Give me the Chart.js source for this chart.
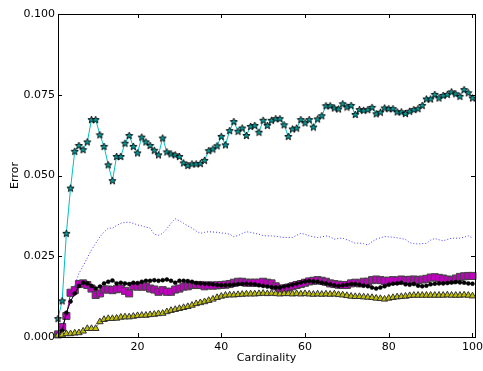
<!DOCTYPE html>
<html><head><meta charset="utf-8">
<script src="https://cdn.jsdelivr.net/npm/chart.js@4/dist/chart.umd.min.js"></script>
<style>html,body{margin:0;padding:0;background:#fff;}#wrap{width:483px;height:371px;}</style>
</head><body><div id="wrap"><canvas id="c" width="483" height="371"></canvas></div>
<script>
const cardinality = Array.from({length: 100}, (_, i) => i + 1);
const xTicks = [20, 40, 60, 80, 100];
const yTicks = [0, 0.025, 0.05, 0.075, 0.1];

const starSeries = [0.0057,0.0112,0.0321,0.0461,0.0575,0.0593,0.058,0.0604,0.0673,0.0673,
0.0626,0.059,0.0533,0.0484,0.0559,0.0559,0.060,0.0624,0.059,0.057,
0.0619,0.0604,0.0593,0.0578,0.0564,0.0616,0.0573,0.0567,0.0564,0.0559,
0.0539,0.0531,0.0536,0.0536,0.0537,0.0547,0.0577,0.0582,0.0592,0.0621,
0.0595,0.0639,0.0667,0.0637,0.0647,0.0624,0.0652,0.0655,0.0634,0.0671,
0.0655,0.0671,0.0676,0.0676,0.0657,0.0621,0.0644,0.0647,0.0673,0.0663,
0.0673,0.065,0.0675,0.0685,0.0716,0.0716,0.0709,0.0706,0.0722,0.0712,
0.0717,0.0689,0.0704,0.0702,0.0704,0.0711,0.0691,0.0696,0.0709,0.0707,
0.0707,0.0697,0.0697,0.0692,0.0699,0.0704,0.0707,0.0717,0.0737,0.0737,
0.0751,0.074,0.0748,0.0751,0.0759,0.0753,0.0745,0.0766,0.0756,0.074];

const dottedSeries = [0.001,0.003,0.007,0.012,0.016,0.0197,0.022,0.0245,0.027,0.029,
0.031,0.0325,0.0337,0.0337,0.0345,0.0352,0.0355,0.0355,0.0352,0.0347,
0.0344,0.034,0.0337,0.0318,0.0315,0.0321,0.0335,0.0352,0.0366,0.036,
0.0352,0.0344,0.0337,0.0328,0.0321,0.0324,0.0326,0.0325,0.0324,0.0322,
0.0321,0.0318,0.0311,0.0314,0.032,0.0326,0.0324,0.0321,0.0318,0.0314,
0.0313,0.0313,0.0312,0.031,0.0308,0.0308,0.0308,0.0315,0.0321,0.0318,
0.0313,0.031,0.0308,0.031,0.0313,0.031,0.0303,0.0305,0.0306,0.0301,
0.0296,0.029,0.0291,0.0289,0.0285,0.0295,0.0303,0.0307,0.0311,0.031,
0.0309,0.0307,0.0305,0.0302,0.0292,0.0289,0.0288,0.0289,0.029,0.03,
0.0305,0.0301,0.0298,0.0302,0.0306,0.0306,0.0306,0.0309,0.0313,0.0306];

const squareSeries = [0.0008,0.0031,0.0065,0.0137,0.0145,0.0164,0.0166,0.0161,0.015,0.013,
0.0135,0.0147,0.0147,0.0145,0.0148,0.015,0.0143,0.0135,0.0157,0.0156,
0.0156,0.0156,0.015,0.0147,0.014,0.0145,0.014,0.014,0.0147,0.015,
0.0156,0.0157,0.0161,0.0161,0.0161,0.0157,0.016,0.0159,0.016,0.0161,
0.0162,0.0164,0.0168,0.0171,0.0171,0.0168,0.0168,0.0168,0.0168,0.0171,
0.0168,0.0166,0.0157,0.015,0.015,0.0153,0.0157,0.0161,0.0164,0.0168,
0.0172,0.0174,0.0176,0.0174,0.0171,0.0166,0.0164,0.0162,0.0161,0.0161,
0.0166,0.0168,0.0166,0.0171,0.0171,0.0176,0.0178,0.0176,0.0174,0.0174,
0.0176,0.0174,0.0178,0.0176,0.0177,0.0178,0.0176,0.0178,0.018,0.0184,
0.0185,0.0183,0.0181,0.0178,0.0176,0.0181,0.0186,0.0188,0.0189,0.0189];

const circleSeries = [0.0005,0.002,0.0075,0.011,0.0135,0.0158,0.0168,0.0166,0.0158,0.015,
0.0156,0.0166,0.0171,0.0175,0.0166,0.0168,0.0166,0.0164,0.0168,0.0167,
0.0171,0.0174,0.0174,0.0176,0.0174,0.0176,0.0178,0.0174,0.0168,0.0174,
0.0174,0.0173,0.0171,0.0167,0.0166,0.0165,0.0164,0.0163,0.0161,0.016,
0.016,0.0161,0.0162,0.0163,0.0164,0.0165,0.0164,0.0163,0.016,0.0158,
0.0156,0.0154,0.0153,0.0153,0.0156,0.0159,0.0162,0.0165,0.0169,0.0172,
0.0173,0.0172,0.0171,0.0168,0.0166,0.0163,0.016,0.0158,0.016,0.0162,
0.0164,0.0164,0.0162,0.0159,0.0157,0.0153,0.015,0.0153,0.0157,0.0162,
0.0165,0.0166,0.0168,0.0163,0.0162,0.0164,0.0159,0.0157,0.0159,0.0163,
0.0165,0.0166,0.0166,0.0167,0.0169,0.017,0.0169,0.0168,0.0166,0.0165];

const triangleSeries = [0.0005,0.0006,0.001,0.001,0.0012,0.0013,0.0018,0.0026,0.0026,0.0026,
0.0047,0.0054,0.0057,0.0057,0.0058,0.0061,0.0062,0.0062,0.0064,0.0066,
0.0067,0.0067,0.0069,0.007,0.0072,0.0073,0.0078,0.0082,0.0085,0.0088,
0.0091,0.0094,0.0098,0.0103,0.0106,0.0109,0.0113,0.0117,0.0122,0.0126,
0.0129,0.013,0.013,0.0131,0.0132,0.0133,0.0133,0.0133,0.0134,0.0135,
0.0134,0.0135,0.0134,0.0133,0.0134,0.0134,0.0133,0.0134,0.0133,0.0134,
0.0133,0.0132,0.0133,0.0132,0.0133,0.0132,0.0133,0.0131,0.013,0.0128,
0.0126,0.0125,0.0125,0.0124,0.0123,0.0122,0.012,0.0119,0.0117,0.012,
0.0122,0.0124,0.0125,0.0126,0.0128,0.0129,0.0129,0.0129,0.0129,0.0129,
0.0129,0.0129,0.0129,0.013,0.0129,0.0129,0.0129,0.013,0.0129,0.0127];

function makeStar() {
  const c = document.createElement('canvas');
  c.width = 9; c.height = 9;
  const g = c.getContext('2d');
  g.beginPath();
  for (let i = 0; i < 10; i++) {
    const r = i % 2 === 0 ? 3.8 : 1.6;
    const a = -Math.PI / 2 + i * Math.PI / 5;
    const px = 4.5 + r * Math.cos(a), py = 4.8 + r * Math.sin(a);
    if (i === 0) g.moveTo(px, py); else g.lineTo(px, py);
  }
  g.closePath();
  g.fillStyle = '#00A0A0';
  g.fill();
  g.lineWidth = 0.9;
  g.strokeStyle = '#000';
  g.stroke();
  return c;
}
const starImg = makeStar();

const pts = arr => arr.map((v, i) => ({x: cardinality[i], y: v}));

const framePlugin = {
  id: 'frame',
  afterDatasetsDraw(chart) {
    const {ctx, chartArea: a, scales} = chart;
    ctx.save();
    ctx.strokeStyle = '#000';
    ctx.lineWidth = 1;
    ctx.beginPath();
    xTicks.forEach(v => {
      const px = Math.round(scales.x.getPixelForValue(v)) + 0.5;
      ctx.moveTo(px, a.bottom); ctx.lineTo(px, a.bottom - 4);
      ctx.moveTo(px, a.top); ctx.lineTo(px, a.top + 4);
    });
    yTicks.forEach(v => {
      const py = Math.round(scales.y.getPixelForValue(v)) + 0.5;
      ctx.moveTo(a.left, py); ctx.lineTo(a.left + 4, py);
      ctx.moveTo(a.right, py); ctx.lineTo(a.right - 4, py);
    });
    ctx.stroke();
    ctx.strokeRect(Math.round(a.left) + 0.5, Math.round(a.top) + 0.5,
      Math.round(a.right - a.left), Math.round(a.bottom - a.top));
    ctx.restore();
  }
};

Chart.defaults.font.family = 'DejaVu Sans';
Chart.defaults.font.size = 11;
Chart.defaults.color = '#000';

new Chart(document.getElementById('c'), {
  type: 'line',
  data: {
    datasets: [
      {data: pts(starSeries), borderColor: '#00BFBF', borderWidth: 1, pointStyle: starImg,
       pointRadius: 4, order: 4, clip: 6},
      {data: pts(dottedSeries), borderColor: '#3f3fff', borderWidth: 1, borderDash: [1, 2],
       pointRadius: 0, order: 3},
      {data: pts(squareSeries), borderColor: '#BF00BF', borderWidth: 1, pointStyle: 'rect',
       pointRadius: 5, pointBackgroundColor: '#BF00BF', pointBorderColor: '#444', pointBorderWidth: 1,
       order: 2, clip: 6},
      {data: pts(circleSeries), borderColor: '#000', borderWidth: 1, pointStyle: 'circle',
       pointRadius: 2, pointBackgroundColor: '#000', pointBorderColor: '#000', pointBorderWidth: 0.5,
       order: 1, clip: 6},
      {data: pts(triangleSeries), borderColor: '#BFBF00', borderWidth: 1, pointStyle: 'triangle',
       pointRadius: 3.8, pointBackgroundColor: '#BFBF00', pointBorderColor: '#333', pointBorderWidth: 1,
       order: 0, clip: 6}
    ]
  },
  options: {
    responsive: false,
    animation: false,
    events: [],
    layout: {padding: {top: 14, right: 8, left: 0, bottom: 0}},
    plugins: {legend: {display: false}, tooltip: {enabled: false}},
    elements: {line: {tension: 0}},
    scales: {
      x: {
        type: 'linear', min: 1, max: 100.6,
        afterBuildTicks: s => { s.ticks = xTicks.map(v => ({value: v})); },
        afterFit: s => { s.height = 34; s.paddingRight = 0; s.paddingLeft = 0; },
        grid: {display: false, drawTicks: false},
        border: {display: false},
        ticks: {padding: 4, maxRotation: 0, autoSkip: false, font: {size: 11}},
        title: {display: true, text: 'Cardinality', font: {size: 11}, padding: {top: 0, bottom: 6}}
      },
      y: {
        type: 'linear', min: 0, max: 0.1,
        afterBuildTicks: s => { s.ticks = yTicks.map(v => ({value: v})); },
        afterFit: s => { s.width = 58; s.paddingTop = 0; s.paddingBottom = 0; },
        grid: {display: false, drawTicks: false},
        border: {display: false},
        ticks: {padding: 3, font: {size: 11}, callback: v => v.toFixed(3)},
        title: {display: true, text: 'Error', font: {size: 11}, padding: {top: 9, bottom: 0}}
      }
    }
  },
  plugins: [framePlugin]
});
</script>
</body></html>
